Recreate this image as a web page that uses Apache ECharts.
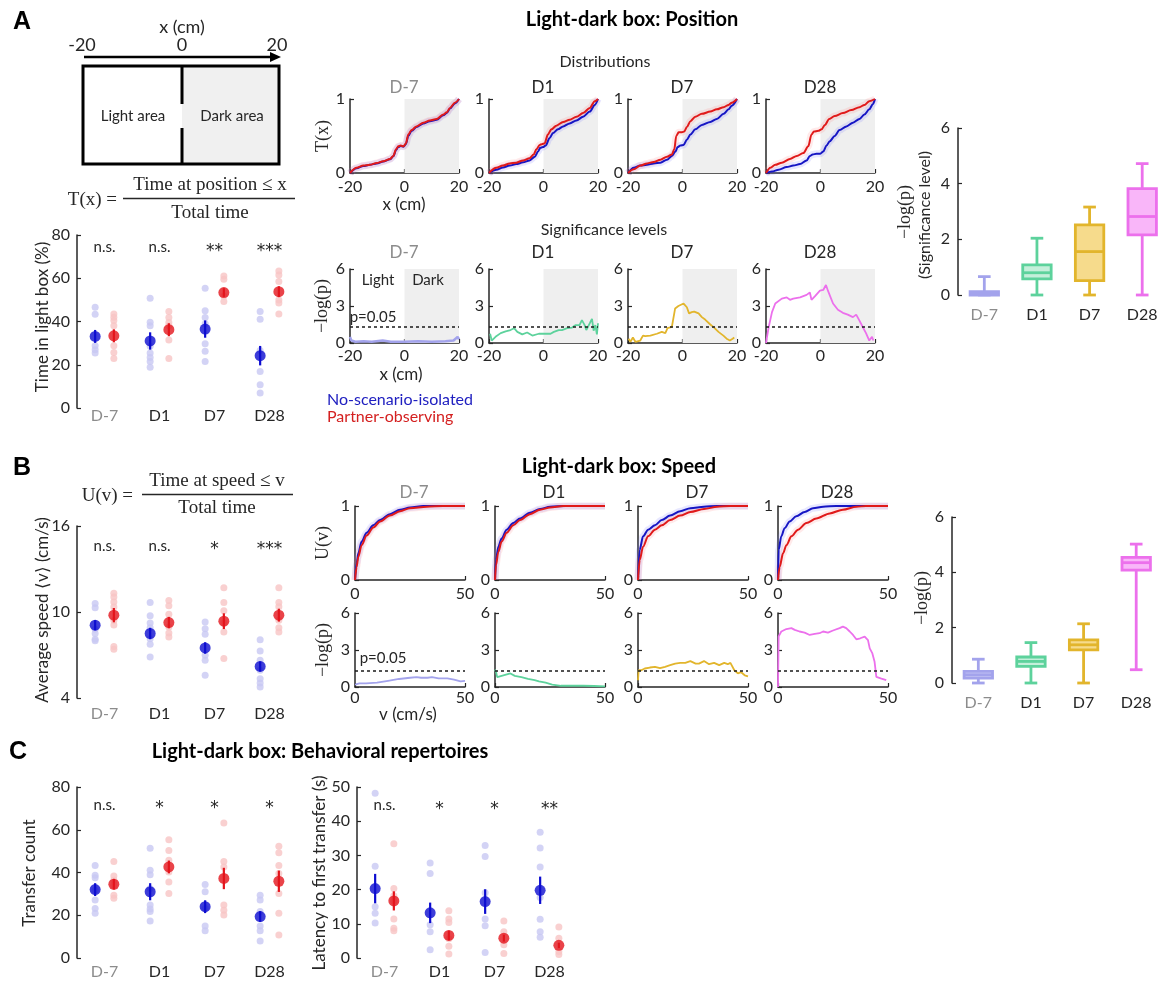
<!DOCTYPE html>
<html>
<head>
<meta charset="utf-8">
<script src="https://cdn.jsdelivr.net/npm/echarts@6/dist/echarts.min.js"></script>
<style>
  html, body { margin: 0; padding: 0; background: #fff; }
  #chart { width: 1163px; height: 987px; }
</style>
</head>
<body>
<div id="chart"></div>
<script>
// ---------------- data ----------------
const days = ['D-7', 'D1', 'D7', 'D28'];

// A: time spent in the light box (%)
const lightNsiMean = [33.1, 31.0, 36.5, 24.2];
const lightNsiErr = [3.0, 4.0, 4.0, 4.5];
const lightNsiDots = [[46.6, 43.4, 28.8, 26.9, 25.4], [50.8, 39.7, 38, 28.5, 25.4, 23.4, 21.5, 18.9], [55.4, 45, 41.8, 39, 29.7, 26.2, 21.5], [44.6, 41, 26.6, 16.9, 10.8, 6.9]];
const lightPoMean = [33.4, 36.2, 53.4, 53.8];
const lightPoErr = [3.0, 3.0, 2.0, 2.5];
const lightPoDots = [[43.5, 42, 40.5, 38, 28.8, 25.7, 22.9], [44.6, 41.8, 39.5, 38, 31.5, 22.9], [61, 59.5, 51.8, 49.2], [63.4, 61.5, 58.5, 50, 48.5, 43.5]];
const lightSig = ['n.s.', 'n.s.', '**', '***'];

// A: cumulative position distributions T(x)
const posCdfNsi = [
  [[-20, 0], [-17.6, 0.065], [-15.1, 0.095], [-12.7, 0.11], [-10.2, 0.13], [-7.8, 0.155], [-5.3, 0.185], [-4.1, 0.225], [-3.1, 0.31], [-2.3, 0.35], [-1.4, 0.365], [-0.4, 0.355], [0.5, 0.39], [1.4, 0.5], [2.6, 0.57], [4.4, 0.62], [6.9, 0.67], [9.3, 0.7], [11.8, 0.72], [14.2, 0.78], [15.5, 0.81], [16.7, 0.87], [18.5, 0.94], [20, 1]],
  [[-20, 0], [-17.3, 0.045], [-14.9, 0.075], [-12.4, 0.1], [-10, 0.12], [-7.5, 0.145], [-5.1, 0.17], [-3.2, 0.22], [-2, 0.29], [-1.2, 0.34], [-0.2, 0.35], [0.8, 0.37], [2.2, 0.47], [3.5, 0.54], [5.3, 0.59], [7.2, 0.63], [9.6, 0.67], [12.1, 0.71], [14.5, 0.76], [17, 0.83], [18.8, 0.92], [20, 1]],
  [[-20, 0], [-17.9, 0.07], [-15.5, 0.1], [-13, 0.11], [-10.6, 0.13], [-8.1, 0.14], [-5.7, 0.18], [-3.9, 0.23], [-2.6, 0.29], [-1.8, 0.35], [-0.8, 0.37], [0.4, 0.38], [1.6, 0.45], [2.9, 0.52], [4.7, 0.59], [7.1, 0.65], [10.2, 0.69], [12.6, 0.73], [15.1, 0.8], [16.9, 0.86], [18.1, 0.91], [20, 1]],
  [[-20, 0], [-17.8, 0.02], [-15.4, 0.045], [-12.4, 0.08], [-10, 0.1], [-7.5, 0.12], [-5.1, 0.17], [-3.9, 0.23], [-2.9, 0.25], [-1.5, 0.26], [-0.1, 0.26], [1, 0.29], [2.2, 0.37], [3.4, 0.43], [5.2, 0.5], [7, 0.58], [9.5, 0.63], [11.9, 0.68], [14.3, 0.73], [16.1, 0.79], [17.9, 0.86], [19.2, 0.93], [20, 1]]
];
const posCdfPo = [
  [[-20, 0], [-17.6, 0.07], [-15.1, 0.1], [-12.7, 0.11], [-10.2, 0.135], [-7.8, 0.16], [-5.3, 0.19], [-4.1, 0.23], [-3.1, 0.32], [-2.3, 0.36], [-1.4, 0.37], [-0.4, 0.36], [0.5, 0.4], [1.4, 0.52], [2.6, 0.58], [4.4, 0.63], [6.9, 0.68], [9.3, 0.71], [11.8, 0.73], [14.2, 0.79], [15.5, 0.82], [16.7, 0.88], [18.5, 0.95], [20, 1]],
  [[-20, 0], [-17.3, 0.07], [-14.9, 0.1], [-12.4, 0.13], [-10, 0.14], [-7.5, 0.17], [-5.1, 0.2], [-3.6, 0.25], [-2.6, 0.32], [-1.4, 0.38], [-0.6, 0.39], [0.4, 0.4], [1.6, 0.52], [2.9, 0.59], [4.7, 0.64], [7.2, 0.69], [9.6, 0.72], [12.1, 0.76], [14.5, 0.81], [17, 0.88], [18.8, 0.97], [20, 1]],
  [[-20, 0], [-17.9, 0.05], [-15.5, 0.1], [-13, 0.13], [-10.6, 0.15], [-8.1, 0.18], [-5.7, 0.22], [-3.9, 0.25], [-3, 0.32], [-2.3, 0.5], [-1.4, 0.55], [-0.2, 0.55], [0.6, 0.56], [1.6, 0.62], [2.9, 0.7], [4.7, 0.76], [7.1, 0.8], [10.2, 0.83], [12.6, 0.86], [15.1, 0.89], [16.9, 0.92], [18.1, 0.95], [20, 1]],
  [[-20, 0], [-18.4, 0.07], [-16.6, 0.11], [-14.2, 0.14], [-11.2, 0.19], [-8.7, 0.23], [-6.3, 0.27], [-4.5, 0.36], [-3.3, 0.52], [-2.4, 0.56], [-0.8, 0.57], [0.4, 0.59], [1.6, 0.65], [3.2, 0.73], [5.2, 0.77], [8.2, 0.81], [11.3, 0.85], [14.3, 0.89], [16.1, 0.92], [17.9, 0.97], [20, 1]]
];

// A: significance along the box, -log10(p)
const posSig = [
  [[-20, 0.5], [-19.5, 0.2], [-18, 0.1], [-15, 0.15], [-12, 0.1], [-8, 0.2], [-5, 0.1], [0, 0.1], [5, 0.15], [10, 0.1], [15, 0.15], [18, 0.2], [19.5, 0.5], [20, 0.3]],
  [[-19.6, 0.75], [-19, 0.2], [-17.6, 0.5], [-15.7, 0.8], [-13.9, 0.95], [-12.1, 1.05], [-10.8, 1.2], [-9.6, 0.9], [-7.8, 0.7], [-6, 0.85], [-4.1, 0.6], [-1.7, 0.75], [0.7, 0.75], [2.6, 0.75], [3.8, 0.9], [5.6, 1.05], [6.8, 1.05], [8.7, 1.2], [10.5, 1.25], [11.7, 1.45], [13.2, 1.45], [14.1, 1.85], [15.1, 1.45], [15.7, 1.05], [16.3, 1.3], [17.2, 1.7], [17.8, 1.95], [18.4, 1.0], [19, 1.45], [19.6, 0.7], [20, 1.6]],
  [[-19.8, 0.35], [-19.1, 0.1], [-18.2, 0.45], [-17.3, 0.1], [-15.5, 0.2], [-14.5, 0.6], [-13.7, 0.55], [-11.8, 0.6], [-9.4, 0.75], [-7.6, 0.9], [-6.3, 0.8], [-5.5, 1.2], [-3.9, 1.3], [-2.7, 2.8], [-1.5, 3.0], [0.4, 3.2], [1.6, 2.9], [2.4, 2.4], [3.4, 2.5], [4.3, 2.55], [5.0, 2.7], [5.9, 2.4], [7.1, 2.1], [8.3, 1.9], [10.2, 1.5], [11.6, 1.25], [13.2, 0.9], [15, 0.6], [16.2, 0.35], [17.4, 0.2], [18.4, 0.35], [19, 0.45]],
  [[-20, 0], [-19, 1.3], [-17.8, 2.5], [-16.6, 3.2], [-14.2, 3.6], [-12.4, 3.7], [-11.2, 3.5], [-10, 3.6], [-7.5, 3.7], [-5.1, 3.9], [-3.9, 4.1], [-3.3, 3.5], [-2, 3.8], [-0.2, 4.25], [1, 4.3], [2, 4.7], [2.8, 4.2], [4.6, 3.2], [6.4, 2.7], [8.2, 2.45], [10, 2.3], [11.9, 2.1], [13.1, 2.3], [14.2, 1.85], [15.5, 1.3], [16.7, 0.8], [17.9, 0.2], [18.9, 0.5], [19.4, 0.2]]
];
// A: summary of the significance traces [min, Q1, median, Q3, max]
const posSigBox = [[0, 0, 0.05, 0.12, 0.66], [0, 0.58, 0.8, 1.08, 2.04], [0, 0.52, 1.56, 2.52, 3.16], [0, 2.16, 2.82, 3.82, 4.72]];

// B: average speed (cm/s)
const speedNsiMean = [9.08, 8.5, 7.49, 6.2];
const speedNsiErr = [0.35, 0.4, 0.4, 0.35];
const speedNsiDots = [[10.6, 10.3, 8.8, 8.5, 8.1, 8.0], [10.66, 9.73, 9.24, 8.9, 8.14, 7.75, 6.86], [9.31, 8.84, 8.45, 6.98, 6.63, 5.58], [8.07, 7.28, 6.63, 5.93, 5.35, 5.04, 4.76]];
const speedPoMean = [9.78, 9.26, 9.36, 9.78];
const speedPoErr = [0.5, 0.4, 0.55, 0.45];
const speedPoDots = [[11.3, 11.05, 10.7, 10.35, 9.4, 9.1, 7.6, 7.4], [10.8, 10.43, 9.85, 8.96, 8.54, 8.26], [11.69, 10.66, 10.08, 9.24, 8.6, 6.75], [11.69, 10.66, 10.36, 9.43, 8.9, 8.6]];
const speedSig = ['n.s.', 'n.s.', '*', '***'];
const speedTicks = [4, 10, 16];

// B: cumulative speed distributions U(v)
const speedCdfNsi = [
  [[0, 0], [0.76, 0.225], [1.5, 0.36], [3, 0.52], [5.3, 0.64], [8.3, 0.74], [11.4, 0.81], [15.9, 0.89], [20.5, 0.95], [25, 0.98], [31, 1.0], [50, 1]],
  [[0, 0], [0.45, 0.27], [1.5, 0.45], [3, 0.56], [5.3, 0.68], [8.3, 0.77], [11.4, 0.83], [15.9, 0.91], [20.5, 0.96], [25, 0.99], [32, 1], [50, 1]],
  [[0, 0], [0.77, 0.41], [2.3, 0.59], [4.6, 0.68], [7.7, 0.74], [10.8, 0.81], [14.6, 0.87], [19.2, 0.93], [23.8, 0.97], [30, 0.99], [36, 1], [50, 1]],
  [[0, 0], [0.3, 0.41], [1.5, 0.59], [3, 0.7], [5.3, 0.79], [8.3, 0.86], [12.1, 0.92], [15.9, 0.97], [20.5, 0.99], [26.5, 1], [50, 1]]
];
const speedCdfPo = [
  [[0, 0], [0.76, 0.18], [1.5, 0.315], [3, 0.47], [5.3, 0.6], [8.3, 0.71], [11.4, 0.79], [15.9, 0.87], [20.5, 0.93], [25, 0.97], [32.6, 0.99], [40, 1], [50, 1]],
  [[0, 0], [0.45, 0.2], [1.5, 0.38], [3, 0.52], [5.3, 0.64], [8.3, 0.74], [11.4, 0.81], [15.9, 0.89], [20.5, 0.95], [25, 0.98], [31, 1], [50, 1]],
  [[0, 0], [0.77, 0.27], [2.3, 0.45], [4.6, 0.59], [7.7, 0.68], [10.8, 0.74], [14.6, 0.81], [19.2, 0.87], [23.8, 0.92], [30, 0.96], [36, 0.99], [42, 1], [50, 1]],
  [[0, 0], [0.76, 0.18], [2.3, 0.36], [3.8, 0.47], [6.1, 0.59], [9.1, 0.68], [12.9, 0.77], [17.4, 0.83], [23.5, 0.9], [29.5, 0.95], [35.6, 0.99], [40, 1], [50, 1]]
];

// B: significance along speed, -log10(p)
const speedSigTrace = [
  [[0, 0.2], [2, 0.3], [5, 0.3], [10, 0.35], [15, 0.5], [20, 0.65], [25, 0.75], [28, 0.8], [30, 0.75], [33, 0.75], [35, 0.8], [38, 0.7], [42, 0.7], [45, 0.6], [48, 0.45], [50, 0.5]],
  [[0, 1.4], [0.5, 1.2], [1, 0.8], [3, 0.9], [5, 1.0], [7, 1.1], [9, 0.9], [12, 0.8], [15, 0.65], [18, 0.55], [20, 0.45], [23, 0.35], [26, 0.2], [30, 0.1], [35, 0.1], [40, 0.1], [45, 0.08], [50, 0.05]],
  [[0, 0.55], [0.3, 1.36], [1.5, 1.36], [3.1, 1.5], [5.4, 1.58], [7.7, 1.64], [10, 1.53], [12.3, 1.64], [14.6, 1.77], [16.9, 1.9], [19.2, 1.96], [21.5, 1.96], [23.8, 2.1], [26.2, 1.9], [27.7, 1.9], [30, 2.1], [32.3, 1.85], [34.6, 1.96], [36.9, 1.77], [39.2, 1.96], [40.8, 1.85], [42, 1.96], [43.8, 1.36], [45.4, 1.1], [46.9, 1.2], [48.5, 0.95], [50, 0.87]],
  [[0, 0], [0.3, 4.1], [1.5, 4.5], [3.8, 4.7], [6.1, 4.77], [7.6, 4.63], [9.8, 4.5], [12.1, 4.41], [14.4, 4.22], [16.7, 4.3], [18.9, 4.36], [20.5, 4.5], [22.7, 4.41], [25, 4.58], [28, 4.77], [29.5, 4.9], [31, 4.77], [32.6, 4.5], [34.1, 4.22], [35.6, 3.87], [37.4, 3.95], [39.4, 4.09], [40.9, 3.8], [41.7, 3.13], [42.9, 2.72], [43.9, 2.04], [44.7, 0.82], [47, 0.68], [49.2, 0.55]]
];
const speedSigBox = [[0, 0.18, 0.3, 0.42, 0.86], [0, 0.6, 0.78, 0.94, 1.46], [0, 1.2, 1.38, 1.56, 2.14], [0.48, 4.08, 4.35, 4.54, 5.02]];

// C: transfer count
const transNsiMean = [32, 31, 24, 19.4];
const transNsiErr = [3, 4, 3, 2.5];
const transNsiDots = [[43.3, 38.7, 37.5, 31.7, 27.1, 23.2, 20.9], [51.4, 41, 39, 32.5, 24.8, 22.9, 21.7, 17.3], [34.4, 31, 23.2, 15, 12.8], [29.4, 27.1, 21.7, 15, 12.8, 8]];
const transPoMean = [34.5, 42.6, 37.2, 35.9];
const transPoErr = [2.5, 3, 5, 5];
const transPoDots = [[45.2, 38.4, 36.4, 34, 29.4, 27.9], [55.3, 50.3, 45.7, 40.2, 35.6, 30.2], [63.2, 45.2, 42.6, 24.8, 22.3, 20.1], [52.3, 49.2, 43.3, 39.5, 30.2, 20.9, 10.8]];
const transSig = ['n.s.', '*', '*', '*'];

// C: latency to first transfer (s)
const latNsiMean = [20.3, 13.2, 16.5, 19.8];
const latNsiErr = [4.3, 3, 3.6, 4];
const latNsiDots = [[48.2, 26.8, 15, 13.1, 10.2], [27.8, 24.7, 9.7, 7.7, 2.4], [32.9, 29.7, 19.1, 11.4, 9.4, 1.6], [36.8, 32.2, 26.6, 17.7, 11.3, 7.7, 6.1]];
const latPoMean = [16.7, 6.6, 5.8, 3.7];
const latPoErr = [2.8, 1.4, 1.0, 0.8];
const latPoDots = [[33.4, 20.3, 18.2, 16.6, 11.4, 8.7, 8], [13.8, 11.4, 10.4, 5.6, 3.4, 1.2], [10.8, 7.7, 3.9, 1.3], [9.1, 5.8, 1.9, 1]];
const latSig = ['n.s.', '*', '*', '**'];

const pThreshold = -Math.log10(0.05);

// ---------------- styles ----------------
const SANS = 'Lato, "Open Sans", sans-serif';
const SERIF = '"Liberation Serif", "DejaVu Serif", serif';
const BOLD = '"Liberation Sans", Arial, sans-serif';
const STAR = '"DejaVu Sans", sans-serif';
const INK = '#262626';
const GRAY = '#8c8c8c';
const BLUE = '#0c0cd0', RED = '#e3141b';
const BLUE_L = '#c8c8f2', RED_L = '#f7c4c4';
const CDF_BLUE = '#1616c4', CDF_RED = '#e01a1a';
const DAY_COLORS = ['#a3a3ec', '#5dd29c', '#e2b52c', '#ec70ec'];
const DAY_FILLS = ['#d6d6f9', '#c4efda', '#f6db8c', '#f9b6f9'];
const FS = 16;

const grids = [], xAxes = [], yAxes = [], series = [], graphics = [];

function addGrid(left, top, width, height) {
  grids.push({ left, top, width, height, outerBoundsMode: 'none' });
  return grids.length - 1;
}
function axisBase(g, min, max, interval, showLine, margin) {
  return {
    type: 'value', gridIndex: g, min, max, interval,
    axisLine: { show: showLine, onZero: false, lineStyle: { color: INK, width: 1.5 } },
    axisTick: { show: showLine, inside: true, length: 4, lineStyle: { color: INK, width: 1.2 } },
    axisLabel: { fontFamily: SANS, fontSize: FS, color: INK, margin: margin },
    splitLine: { show: false }
  };
}
function dayAxis(g, max, margin) {
  const a = axisBase(g, 0.5, max, null, false, margin);
  a.axisLabel.customValues = [1, 2, 3, 4];
  a.axisLabel.formatter = v => {
    const i = Math.round(v) - 1;
    return (i === 0 ? '{g|' : '{k|') + days[i] + '}';
  };
  a.axisLabel.rich = {
    g: { color: GRAY, fontFamily: SANS, fontSize: FS },
    k: { color: INK, fontFamily: SANS, fontSize: FS }
  };
  return a;
}

function errRender(params, api) {
  const p1 = api.coord([api.value(0), api.value(1)]);
  const p2 = api.coord([api.value(0), api.value(2)]);
  return { type: 'line', shape: { x1: p1[0], y1: p1[1], x2: p2[0], y2: p2[1] },
           style: { stroke: api.visual('color'), lineWidth: 2.2 } };
}

function groupSeries(g, mean, err, dots, offset, light, strong) {
  series.push({ type: 'scatter', xAxisIndex: g, yAxisIndex: g, z: 2, silent: true,
    symbolSize: 7, itemStyle: { color: light },
    data: dots.flatMap((arr, i) => arr.map(v => [i + 1 + offset, v])) });
  series.push({ type: 'custom', xAxisIndex: g, yAxisIndex: g, z: 3, silent: true,
    itemStyle: { color: strong }, renderItem: errRender, encode: { x: 0, y: [1, 2] },
    data: mean.map((m, i) => [i + 1 + offset, m - err[i], m + err[i]]) });
  series.push({ type: 'scatter', xAxisIndex: g, yAxisIndex: g, z: 4, silent: true,
    symbolSize: 11, itemStyle: { color: strong },
    data: mean.map((m, i) => [i + 1 + offset, m]) });
}

function sigSeries(g, labels, y) {
  series.push({ type: 'custom', xAxisIndex: g, yAxisIndex: g, z: 5, silent: true,
    data: labels.map((s, i) => [i + 1, y]),
    renderItem: (params, api) => {
      const p = api.coord([api.value(0), api.value(1)]);
      const t = labels[params.dataIndex];
      const star = t.indexOf('*') >= 0;
      return { type: 'text', x: p[0], y: p[1] + (star ? 4 : 0),
        style: { text: t, font: star ? '17px ' + STAR : '15px ' + SANS, fill: INK,
                 align: 'center', verticalAlign: 'middle' } };
    } });
}

function dotPanel(left, top, height, ymin, ymax, interval, labelMargin, d, sig, sigY, customTicks) {
  const g = addGrid(left, top, 220, height);
  xAxes.push(dayAxis(g, 4.5, labelMargin));
  const y = axisBase(g, ymin, ymax, interval, true, 7);
  if (customTicks) {
    y.axisLabel.customValues = customTicks;
    y.axisTick.customValues = customTicks;
  }
  yAxes.push(y);
  groupSeries(g, d[0], d[1], d[2], -0.17, BLUE_L, BLUE);
  groupSeries(g, d[3], d[4], d[5], 0.17, RED_L, RED);
  sigSeries(g, sig, sigY);
  return g;
}

function cdfLine(g, data, color, band) {
  series.push({ type: 'line', xAxisIndex: g, yAxisIndex: g, data, symbol: 'none', silent: true, z: 2,
    smooth: 0.3, smoothMonotone: 'x', lineStyle: { color: band, width: 7, opacity: 0.16 } });
  series.push({ type: 'line', xAxisIndex: g, yAxisIndex: g, data, symbol: 'none', silent: true, z: 3,
    smooth: 0.3, smoothMonotone: 'x', lineStyle: { color, width: 2 } });
}

const darkArea = { silent: true, itemStyle: { color: '#efefef' }, data: [[{ xAxis: 0 }, { xAxis: 20 }]] };
const threshLine = { silent: true, symbol: 'none', label: { show: false },
  lineStyle: { color: '#1a1a1a', type: [3, 3], width: 1.5 }, data: [{ yAxis: pThreshold }] };

function boxRender(params, api) {
  const i = api.value(0);
  const mn = api.value(1), q1 = api.value(2), md = api.value(3), q3 = api.value(4), mx = api.value(5);
  const hw = 0.27, cw = 0.12;
  const c = (x, y) => api.coord([x, y]);
  const stroke = DAY_COLORS[params.dataIndex], fill = DAY_FILLS[params.dataIndex];
  const tl = c(i - hw, q3), br = c(i + hw, q1);
  const ln = (a, b) => ({ type: 'line', shape: { x1: a[0], y1: a[1], x2: b[0], y2: b[1] },
                          style: { stroke, lineWidth: 2.8 } });
  return { type: 'group', children: [
    ln(c(i, q3), c(i, mx)), ln(c(i - cw, mx), c(i + cw, mx)),
    ln(c(i, q1), c(i, mn)), ln(c(i - cw, mn), c(i + cw, mn)),
    { type: 'rect', shape: { x: tl[0], y: tl[1], width: br[0] - tl[0], height: Math.max(br[1] - tl[1], 1) },
      style: { fill, stroke, lineWidth: 2.8 } },
    ln(c(i - hw, md), c(i + hw, md))
  ] };
}

function boxPanel(left, top, height, data) {
  const g = addGrid(left, top, 200, height);
  xAxes.push(dayAxis(g, 4.3, 12));
  yAxes.push(axisBase(g, 0, 6, 2, true, 8));
  series.push({ type: 'custom', xAxisIndex: g, yAxisIndex: g, silent: true, renderItem: boxRender,
    encode: { x: 0, y: [1, 2, 3, 4, 5] }, data: data.map((b, i) => [i + 1].concat(b)) });
}

// ---------------- text helpers ----------------
function txt(x, y, text, font, fill, align, rot) {
  graphics.push({ type: 'text', x, y, z: 100, rotation: rot || 0, silent: true,
    style: { text, font, fill: fill || INK, align: align || 'center', verticalAlign: 'middle' } });
}
function line(x1, y1, x2, y2, w, color) {
  graphics.push({ type: 'line', z: 100, silent: true, shape: { x1, y1, x2, y2 },
    style: { stroke: color || '#000', lineWidth: w } });
}

// ---------------- panel A ----------------
dotPanel(77, 235, 173, 0, 80, 20, 0,
  [lightNsiMean, lightNsiErr, lightNsiDots, lightPoMean, lightPoErr, lightPoDots], lightSig, 74.4);

const aLefts = [350, 489, 628, 766];
aLefts.forEach((L, k) => {
  const g = addGrid(L, 99, 109, 74);
  xAxes.push(axisBase(g, -20, 20, 20, true, 6));
  yAxes.push(axisBase(g, 0, 1, 1, true, 5));
  cdfLine(g, posCdfNsi[k], CDF_BLUE, '#6f6fff');
  cdfLine(g, posCdfPo[k], CDF_RED, '#ff7a7a');
  series[series.length - 4].markArea = darkArea;
  txt(L + 54, 88, days[k], '17px ' + SANS, k === 0 ? GRAY : INK);

  const s = addGrid(L, 269, 109, 74);
  xAxes.push(axisBase(s, -20, 20, 20, true, 5));
  yAxes.push(axisBase(s, 0, 6, 3, true, 5));
  series.push({ type: 'line', xAxisIndex: s, yAxisIndex: s, data: posSig[k], symbol: 'none', silent: true,
    lineStyle: { color: DAY_COLORS[k], width: k === 0 ? 2.5 : 1.8 }, markArea: darkArea, markLine: threshLine });
  txt(L + 54, 253, days[k], '17px ' + SANS, k === 0 ? GRAY : INK);
});
boxPanel(958, 128, 167, posSigBox);

// ---------------- panel B ----------------
dotPanel(77, 526, 172, 4, 16, null, 8,
  [speedNsiMean, speedNsiErr, speedNsiDots, speedPoMean, speedPoErr, speedPoDots], speedSig, 14.6, speedTicks);

const bLefts = [355, 495, 638, 778];
bLefts.forEach((L, k) => {
  const g = addGrid(L, 506, 110, 74);
  xAxes.push(axisBase(g, 0, 50, 50, true, 6));
  yAxes.push(axisBase(g, 0, 1, 1, true, 5));
  cdfLine(g, speedCdfNsi[k], CDF_BLUE, '#6f6fff');
  cdfLine(g, speedCdfPo[k], CDF_RED, '#ff7a7a');
  txt(L + 59, 493, days[k], '17px ' + SANS, k === 0 ? GRAY : INK);

  const s = addGrid(L, 613, 110, 74);
  xAxes.push(axisBase(s, 0, 50, 50, true, 3));
  yAxes.push(axisBase(s, 0, 6, 3, true, 5));
  series.push({ type: 'line', xAxisIndex: s, yAxisIndex: s, data: speedSigTrace[k], symbol: 'none', silent: true,
    lineStyle: { color: DAY_COLORS[k], width: 1.8 }, markLine: threshLine });
});
boxPanel(952, 517, 166, speedSigBox);

// ---------------- panel C ----------------
dotPanel(77, 787, 171, 0, 80, 20, 6,
  [transNsiMean, transNsiErr, transNsiDots, transPoMean, transPoErr, transPoDots], transSig, 71.6);
dotPanel(357, 787, 171, 0, 50, 10, 6,
  [latNsiMean, latNsiErr, latNsiDots, latPoMean, latPoErr, latPoDots], latSig, 44.7);

// ---------------- annotations ----------------
const R90 = Math.PI / 2;
txt(22, 22, 'A', 'bold 25px ' + BOLD, '#000');
txt(22, 468, 'B', 'bold 25px ' + BOLD, '#000');
txt(18, 752, 'C', 'bold 25px ' + BOLD, '#000');
txt(632, 20, 'Light-dark box: Position', 'bold 20px ' + SANS, '#000');
txt(619, 467, 'Light-dark box: Speed', 'bold 20px ' + SANS, '#000');
txt(320, 752, 'Light-dark box: Behavioral repertoires', 'bold 20px ' + SANS, '#000');

// arena sketch
txt(182, 27, 'x (cm)', '18px ' + SANS);
txt(82, 45, '-20', '18px ' + SANS);
txt(182, 45, '0', '18px ' + SANS);
txt(277, 45, '20', '18px ' + SANS);
line(84, 57, 272, 57, 2.5);
graphics.push({ type: 'polygon', z: 100, silent: true, shape: { points: [[281, 57], [270, 52], [270, 62]] }, style: { fill: '#000' } });
graphics.push({ type: 'rect', z: 99, silent: true, shape: { x: 182, y: 66, width: 97, height: 98 }, style: { fill: '#f0f0f0' } });
graphics.push({ type: 'rect', z: 100, silent: true, shape: { x: 83, y: 66, width: 196, height: 98 }, style: { fill: 'none', stroke: '#000', lineWidth: 3 } });
line(182, 66, 182, 104, 3);
line(182, 128, 182, 164, 3);
txt(133, 116, 'Light area', '15px ' + SANS);
txt(232, 116, 'Dark area', '15px ' + SANS);

// formulas
txt(117, 200, 'T(x) =', '19px ' + SERIF, INK, 'right');
txt(210, 185, 'Time at position \u2264 x', '19px ' + SERIF);
line(123, 198.5, 295, 198.5, 1.3, INK);
txt(210, 213, 'Total time', '19px ' + SERIF);
txt(133, 496, 'U(v) =', '19px ' + SERIF, INK, 'right');
txt(217, 481, 'Time at speed \u2264 v', '19px ' + SERIF);
line(142, 494.5, 293, 494.5, 1.3, INK);
txt(217, 508, 'Total time', '19px ' + SERIF);

// panel headings and axis names
txt(605, 62, 'Distributions', '16px ' + SANS);
txt(604, 230, 'Significance levels', '16px ' + SANS);
txt(43, 317, 'Time in light box (%)', '17px ' + SANS, INK, 'center', R90);
txt(43, 610, 'Average speed \u27e8v\u27e9 (cm/s)', '17px ' + SANS, INK, 'center', R90);
txt(30, 873, 'Transfer count', '17px ' + SANS, INK, 'center', R90);
txt(320, 873, 'Latency to first transfer (s)', '17px ' + SANS, INK, 'center', R90);
txt(323, 136, 'T(x)', '18px ' + SERIF, INK, 'center', R90);
txt(322, 306, '\u2212log(p)', '18px ' + SERIF, INK, 'center', R90);
txt(323, 543, 'U(v)', '18px ' + SERIF, INK, 'center', R90);
txt(323, 650, '\u2212log(p)', '18px ' + SERIF, INK, 'center', R90);
txt(905, 212, '\u2212log(p)', '18px ' + SERIF, INK, 'center', R90);
txt(925, 215, '(Significance level)', '16px ' + SANS, INK, 'center', R90);
txt(922, 598, '\u2212log(p)', '18px ' + SERIF, INK, 'center', R90);
txt(404, 205, 'x (cm)', '17px ' + SANS);
txt(401, 375, 'x (cm)', '17px ' + SANS);
txt(408, 715, 'v (cm/s)', '17px ' + SANS);
txt(378, 280, 'Light', '15px ' + SANS);
txt(428, 280, 'Dark', '15px ' + SANS);
txt(373, 317, 'p=0.05', '15px ' + SANS);
txt(383, 658, 'p=0.05', '15px ' + SANS);
txt(327, 400, 'No-scenario-isolated', '16px ' + SANS, '#2020c0', 'left');
txt(327, 417, 'Partner-observing', '16px ' + SANS, '#d42020', 'left');

const chart = echarts.init(document.getElementById('chart'), null, { renderer: 'canvas' });
chart.setOption({
  animation: false,
  backgroundColor: '#ffffff',
  grid: grids,
  xAxis: xAxes,
  yAxis: yAxes,
  series: series,
  graphic: { elements: graphics }
});
</script>
</body>
</html>
